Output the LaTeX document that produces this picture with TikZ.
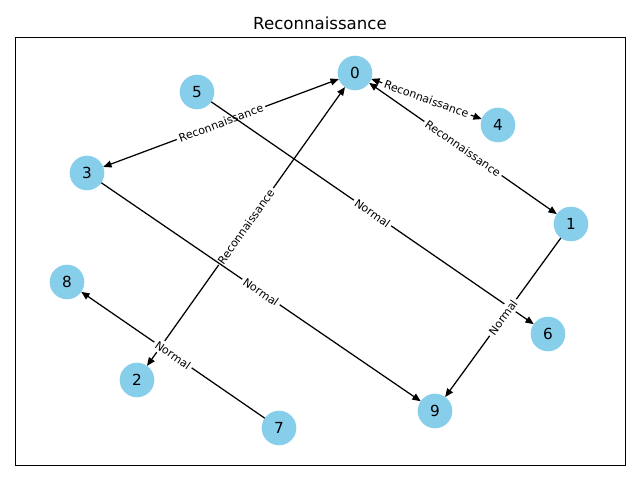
\documentclass[tikz,border=0pt]{standalone}
\usepackage{fontspec}
\setmainfont{DejaVu Sans}
\usetikzlibrary{arrows.meta}

\begin{document}
\begin{tikzpicture}[x=0.01in,y=-0.01in]
    \tikzset{
      vertex/.style={
        circle,
        minimum size=25,
        inner sep=0mm,
        outer sep=0mm,
        fill={rgb,255:red,135;green,206;blue,235},
        font=\fontsize{11}{13}\selectfont
      },
      edge/.style={
        line width=0.9pt,
        -{Triangle[length=6pt,width=5pt]}
      },
      twoway/.style={
        line width=0.9pt,
        {Triangle[length=6pt,width=5pt]}-{Triangle[length=6pt,width=5pt]}
      },
      elabel/.style={
        sloped,
        fill=white,
        inner sep=1.8pt,
        rounded corners=2pt,
        font=\fontsize{8}{9}\selectfont
      }
    }

    \useasboundingbox (0,0) rectangle (640,480);

    %Title
    \node[font=\fontsize{12}{14}\selectfont] (title) at (320,23) {Reconnaissance};
    %Frame
    \draw[line width=0.6pt] (15,37) rectangle (625,465);

    %Top nodes
    \node[vertex] (n0) at (355,73) {0};
    \node[vertex] (n4) at (498,125) {4};
    \node[vertex] (n5) at (197,92) {5};
    %Middle nodes
    \node[vertex] (n3) at (87,173) {3};
    \node[vertex] (n1) at (571,224) {1};
    \node[vertex] (n8) at (67,282) {8};
    %Bottom nodes
    \node[vertex] (n6) at (548,334) {6};
    \node[vertex] (n2) at (137,380) {2};
    \node[vertex] (n9) at (435,411) {9};
    \node[vertex] (n7) at (279,428) {7};

    %Reconnaissance edges
    \draw[twoway] (n0) -- node[elabel] {Reconnaissance} (n4);
    \draw[twoway] (n0) -- node[elabel] {Reconnaissance} (n3);
    \draw[twoway] (n0) -- node[elabel] {Reconnaissance} (n1);
    \draw[twoway] (n0) -- node[elabel] {Reconnaissance} (n2);

    %Normal edges
    \draw[edge] (n5) -- node[elabel] {Normal} (n6);
    \draw[edge] (n3) -- node[elabel] {Normal} (n9);
    \draw[edge] (n1) -- node[elabel] {Normal} (n9);
    \draw[edge] (n7) -- node[elabel] {Normal} (n8);
  \end{tikzpicture}
\end{document}
